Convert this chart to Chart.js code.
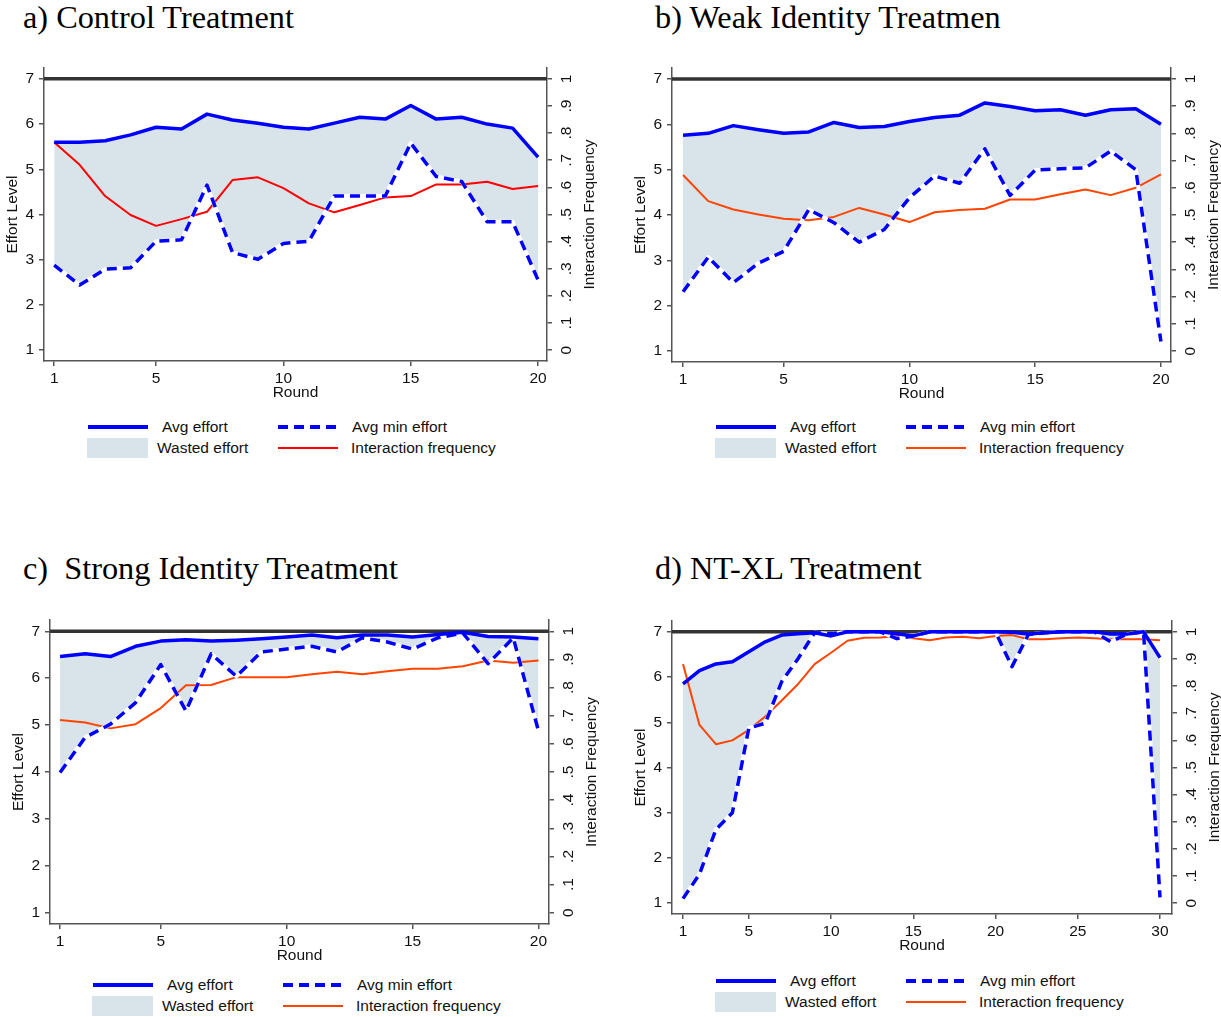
<!DOCTYPE html>
<html>
<head>
<meta charset="utf-8">
<script src="https://cdn.jsdelivr.net/npm/chart.js@4.4.1/dist/chart.umd.min.js"></script>
<style>
  html, body { margin: 0; padding: 0; background: #fff; overflow: hidden; }
  body { width: 1221px; height: 1017px; position: relative; font-family: "Liberation Sans", Arial, sans-serif; }
  canvas { position: absolute; }
  .title { position: absolute; font-family: "Liberation Serif", "Times New Roman", serif; font-size: 32.3px; line-height: 32.3px; color: #000; white-space: pre; }
  .lg { position: absolute; font-size: 15.5px; line-height: 18px; color: #111; white-space: nowrap; }
  .sw { position: absolute; }
</style>
</head>
<body>
<script>
// rounds
const rounds20 = [1, 2, 3, 4, 5, 6, 7, 8, 9, 10, 11, 12, 13, 14, 15, 16, 17, 18, 19, 20];
const rounds30 = [1, 2, 3, 4, 5, 6, 7, 8, 9, 10, 11, 12, 13, 14, 15, 16, 17, 18, 19, 20,
                  21, 22, 23, 24, 25, 26, 27, 28, 29, 30];

// a) control
const avgA  = [5.60, 5.60, 5.63, 5.76, 5.93, 5.89, 6.22, 6.09, 6.02, 5.93, 5.89, 6.02, 6.15, 6.11, 6.41, 6.11, 6.15, 6.00, 5.91, 5.27];
const minA  = [2.88, 2.44, 2.79, 2.82, 3.41, 3.44, 4.65, 3.16, 3.01, 3.36, 3.41, 4.41, 4.41, 4.41, 5.58, 4.84, 4.73, 3.84, 3.84, 2.55];
const freqA = [0.766, 0.683, 0.568, 0.498, 0.458, 0.483, 0.510, 0.627, 0.637, 0.597, 0.541, 0.508, 0.535, 0.563, 0.568, 0.611, 0.611, 0.621, 0.594, 0.605];

// b) weak identity
const avgB  = [5.76, 5.80, 5.97, 5.88, 5.80, 5.83, 6.04, 5.93, 5.95, 6.06, 6.15, 6.20, 6.47, 6.39, 6.30, 6.32, 6.20, 6.32, 6.34, 6.00];
const minB  = [2.31, 3.07, 2.51, 2.94, 3.20, 4.12, 3.83, 3.40, 3.68, 4.38, 4.86, 4.70, 5.46, 4.43, 4.99, 5.02, 5.04, 5.41, 5.00, 1.21];
const freqB = [0.647, 0.551, 0.520, 0.502, 0.486, 0.481, 0.493, 0.526, 0.502, 0.474, 0.510, 0.518, 0.523, 0.557, 0.557, 0.576, 0.594, 0.573, 0.600, 0.649];

// c) strong identity
const avgC  = [6.46, 6.52, 6.46, 6.68, 6.79, 6.82, 6.79, 6.81, 6.84, 6.88, 6.92, 6.86, 6.92, 6.92, 6.88, 6.93, 6.98, 6.89, 6.88, 6.84];
const minC  = [3.99, 4.74, 5.02, 5.48, 6.29, 5.30, 6.52, 6.04, 6.56, 6.62, 6.68, 6.56, 6.86, 6.77, 6.62, 6.86, 6.96, 6.31, 6.86, 4.88];
const freqC = [0.685, 0.676, 0.655, 0.670, 0.727, 0.808, 0.809, 0.837, 0.837, 0.837, 0.847, 0.856, 0.847, 0.858, 0.867, 0.867, 0.876, 0.896, 0.888, 0.896];

// d) NT-XL
const avgD  = [5.85, 6.14, 6.29, 6.34, 6.56, 6.78, 6.93, 6.96, 6.98, 6.91, 7.00, 7.00, 7.00, 6.96, 6.91,
               7.00, 7.00, 7.00, 7.00, 7.00, 6.99, 6.95, 6.98, 7.00, 7.00, 7.00, 6.95, 6.95, 7.00, 6.43];
const minD  = [1.10, 1.64, 2.63, 3.00, 4.87, 4.98, 5.90, 6.41, 6.98, 6.96, 7.00, 7.00, 7.00, 6.85, 6.91,
               7.00, 7.00, 7.00, 7.00, 7.00, 6.23, 6.94, 6.98, 7.00, 7.00, 7.00, 6.78, 6.95, 7.00, 1.13];
const freqD = [0.881, 0.657, 0.586, 0.600, 0.639, 0.688, 0.747, 0.808, 0.881, 0.923, 0.967, 0.978, 0.979, 0.985, 0.976,
               0.969, 0.979, 0.982, 0.976, 0.985, 0.988, 0.973, 0.973, 0.976, 0.979, 0.976, 0.973, 0.973, 0.973, 0.969];

// axis ticks
const effortTicks = [1, 2, 3, 4, 5, 6, 7];
const freqTicks = [0, 0.1, 0.2, 0.3, 0.4, 0.5, 0.6, 0.7, 0.8, 0.9, 1];
const freqTickLabels = ['0', '.1', '.2', '.3', '.4', '.5', '.6', '.7', '.8', '.9', '1'];
const roundTicks20 = [1, 5, 10, 15, 20];
const roundTicks30 = [1, 5, 10, 15, 20, 25, 30];
const maxEffort = 7;

const BLUE = '#0000ff';
const FILL = '#d8e3ea';
const AXIS = '#555555';
const TEXT = '#111111';
const FONT = '"Liberation Sans", Arial, sans-serif';

const panels = [
  { title: 'a) Control Treatment', tx: 23, ty: 1,
    area: { left: 44, right: 547, top: 68, bottom: 361 },
    rounds: rounds20, roundTicks: roundTicks20, xmin: 0.6, xmax: 20.35,
    avg: avgA, min: minA, freq: freqA, freqColor: '#ff0000',
    legend: { x: 88, y: 427 } },
  { title: 'b) Weak Identity Treatmen', tx: 655, ty: 1,
    area: { left: 672, right: 1171, top: 68, bottom: 362 },
    rounds: rounds20, roundTicks: roundTicks20, xmin: 0.56, xmax: 20.4,
    avg: avgB, min: minB, freq: freqB, freqColor: '#ff4500',
    legend: { x: 716, y: 427 } },
  { title: 'c)  Strong Identity Treatment', tx: 23, ty: 552,
    area: { left: 50, right: 549, top: 620, bottom: 924 },
    rounds: rounds20, roundTicks: roundTicks20, xmin: 0.6, xmax: 20.42,
    avg: avgC, min: minC, freq: freqC, freqColor: '#ff4500',
    legend: { x: 93, y: 985 } },
  { title: 'd) NT-XL Treatment', tx: 655, ty: 552,
    area: { left: 672, right: 1172, top: 621, bottom: 914 },
    rounds: rounds30, roundTicks: roundTicks30, xmin: 0.33, xmax: 30.73,
    avg: avgD, min: minD, freq: freqD, freqColor: '#ff4500',
    legend: { x: 716, y: 981 } }
];

function pts(xs, ys) {
  return xs.map((x, i) => ({ x: x, y: ys[i] }));
}

// black reference line at max effort, rotated right-axis labels and title
const extrasPlugin = {
  id: 'extras',
  beforeDatasetsDraw(chart) {
    const { ctx, chartArea } = chart;
    const y = chart.scales.y.getPixelForValue(maxEffort);
    ctx.save();
    ctx.strokeStyle = '#333333';
    ctx.lineWidth = 3.5;
    ctx.beginPath();
    ctx.moveTo(chartArea.left, y);
    ctx.lineTo(chartArea.right, y);
    ctx.stroke();
    ctx.restore();
  },
  afterDraw(chart) {
    const { ctx, chartArea } = chart;
    const s = chart.scales.y2;
    ctx.save();
    ctx.fillStyle = TEXT;
    ctx.font = '15.5px ' + FONT;
    ctx.textAlign = 'center';
    ctx.textBaseline = 'middle';
    freqTicks.forEach((v, i) => {
      ctx.save();
      ctx.translate(chartArea.right + 20, s.getPixelForValue(v));
      ctx.rotate(-Math.PI / 2);
      ctx.fillText(freqTickLabels[i], 0, 0);
      ctx.restore();
    });
    ctx.translate(chartArea.right + 43, (chartArea.top + chartArea.bottom) / 2);
    ctx.rotate(-Math.PI / 2);
    ctx.fillText('Interaction Frequency', 0, 0);
    ctx.restore();
  }
};

function axisGrid() {
  return { display: true, drawOnChartArea: false, drawTicks: true, tickLength: 5, color: AXIS, lineWidth: 1.5 };
}

// fixed box sizes so the plot area lands where it should
function fixBox(size, key) {
  return s => {
    s[key] = size;
    s.paddingTop = 0; s.paddingBottom = 0;
    s.paddingLeft = 0; s.paddingRight = 0;
  };
}

function makeChart(p) {
  const cLeft = p.area.left - 44;
  const cTop = p.area.top - 8;
  const cWidth = p.area.right + 52 - cLeft;
  const cHeight = p.area.bottom + 44 - cTop;
  const rightWidth = cWidth - (p.area.right - cLeft);

  const canvas = document.createElement('canvas');
  canvas.width = cWidth;
  canvas.height = cHeight;
  canvas.style.left = cLeft + 'px';
  canvas.style.top = cTop + 'px';
  canvas.style.width = cWidth + 'px';
  canvas.style.height = cHeight + 'px';
  document.body.appendChild(canvas);

  const font = { family: FONT, size: 15.5 };

  new Chart(canvas, {
    type: 'line',
    data: {
      datasets: [
        { label: 'Avg effort', data: pts(p.rounds, p.avg), yAxisID: 'y',
          borderColor: BLUE, borderWidth: 3.5, backgroundColor: FILL, fill: { target: 1 } },
        { label: 'Avg min effort', data: pts(p.rounds, p.min), yAxisID: 'y',
          borderColor: BLUE, borderWidth: 3.5, borderDash: [10, 6], fill: false },
        { label: 'edge', data: pts(p.rounds, p.min), yAxisID: 'y',
          borderColor: '#ffffff', borderWidth: 4, fill: false },
        { label: 'Interaction frequency', data: pts(p.rounds, p.freq), yAxisID: 'y2',
          borderColor: p.freqColor, borderWidth: 2, fill: false }
      ]
    },
    options: {
      responsive: false,
      animation: false,
      layout: { padding: { top: 8, left: 0, right: 0, bottom: 0 } },
      elements: { point: { radius: 0 }, line: { tension: 0, borderJoinStyle: 'round' } },
      plugins: {
        legend: { display: false },
        tooltip: { enabled: false },
        filler: { drawTime: 'beforeDatasetsDraw' }
      },
      scales: {
        x: {
          type: 'linear', position: 'bottom', min: p.xmin, max: p.xmax,
          afterBuildTicks: s => { s.ticks = p.roundTicks.map(v => ({ value: v })); },
          afterFit: fixBox(44, 'height'),
          grid: axisGrid(),
          border: { display: true, color: AXIS, width: 1.5 },
          ticks: { font: font, color: TEXT, padding: 3, maxRotation: 0, autoSkip: false },
          title: { display: true, text: 'Round', font: font, color: TEXT, padding: { top: 0, bottom: 3 } }
        },
        y: {
          position: 'left', min: 0.76, max: 7.24,
          afterBuildTicks: s => { s.ticks = effortTicks.map(v => ({ value: v })); },
          afterFit: fixBox(44, 'width'),
          grid: axisGrid(),
          border: { display: true, color: AXIS, width: 1.5 },
          ticks: { font: font, color: TEXT, padding: 5 },
          title: { display: true, text: 'Effort Level', font: font, color: TEXT, padding: { top: 3, bottom: 0 } }
        },
        y2: {
          position: 'right', min: -0.04, max: 1.04,
          afterBuildTicks: s => { s.ticks = freqTicks.map(v => ({ value: v })); },
          afterFit: fixBox(rightWidth, 'width'),
          grid: axisGrid(),
          border: { display: true, color: AXIS, width: 1.5 },
          ticks: { display: false }
        }
      }
    },
    plugins: [extrasPlugin]
  });
}

function addEl(cls, left, top, text, style) {
  const el = document.createElement('div');
  el.className = cls;
  el.style.left = left + 'px';
  el.style.top = top + 'px';
  if (text) el.textContent = text;
  if (style) Object.assign(el.style, style);
  document.body.appendChild(el);
  return el;
}

function makeLegend(p) {
  const x = p.legend.x, y = p.legend.y, y2 = y + 21;
  // row 1
  addEl('sw', x, y - 2, '', { width: '60px', height: '4px', background: BLUE });
  addEl('lg', x + 74, y - 9, 'Avg effort');
  addEl('sw', x + 190, y - 2, '', { width: '60px', height: '4px',
    background: 'repeating-linear-gradient(to right, ' + BLUE + ' 0 10px, transparent 10px 16px)' });
  addEl('lg', x + 264, y - 9, 'Avg min effort');
  // row 2
  addEl('sw', x - 1, y2 - 10, '', { width: '61px', height: '20px', background: FILL });
  addEl('lg', x + 69, y2 - 9, 'Wasted effort');
  addEl('sw', x + 190, y2 - 1, '', { width: '60px', height: '2px', background: p.freqColor });
  addEl('lg', x + 263, y2 - 9, 'Interaction frequency');
}

panels.forEach(p => {
  addEl('title', p.tx, p.ty, p.title);
  makeChart(p);
  makeLegend(p);
});
</script>
</body>
</html>
